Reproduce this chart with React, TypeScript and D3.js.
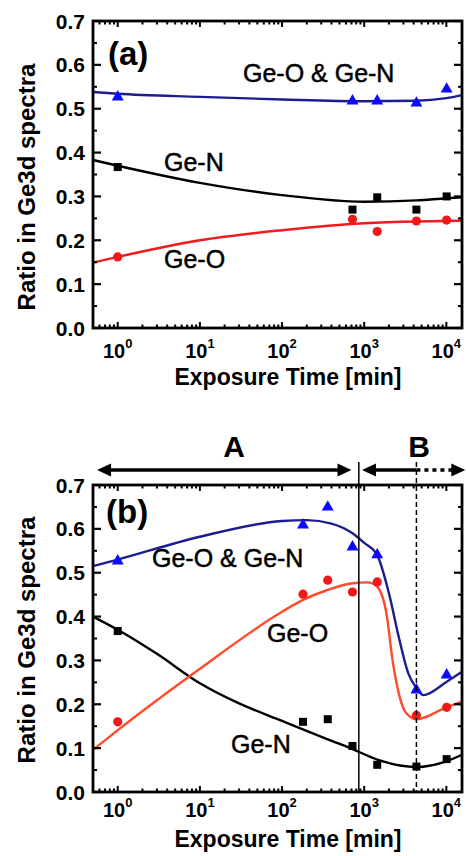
import React from 'react';
import * as d3 from 'd3';

// ---------- shared axes ----------
const X_DOMAIN: [number, number] = [0.5, 15500];
const Y_DOMAIN: [number, number] = [0, 0.7];
const Y_TICKS = [0, 0.1, 0.2, 0.3, 0.4, 0.5, 0.6, 0.7];
const X_TICK_EXPONENTS = [0, 1, 2, 3, 4];

// ---------- panel (a) ----------
const timesA = [1, 720, 1440, 4320, 10080];
const aBoth = [0.529, 0.52, 0.52, 0.515, 0.547];
const aGeN = [0.367, 0.27, 0.298, 0.27, 0.3];
const aGeO = [0.162, 0.248, 0.22, 0.244, 0.246];

const aFitX = [0.5, 1, 10, 100, 1000, 4320, 10000, 15500];
const aFitBoth = [0.538, 0.534, 0.527, 0.521, 0.517, 0.518, 0.524, 0.531];
const aFitGeN = [0.383, 0.37, 0.331, 0.303, 0.288, 0.291, 0.296, 0.298];
const aFitGeO = [0.149, 0.162, 0.2, 0.223, 0.239, 0.243, 0.244, 0.245];

// ---------- panel (b) ----------
const timesB = [1, 180, 360, 720, 1440, 4320, 10080];
const bBoth = [0.529, 0.611, 0.652, 0.561, 0.543, 0.235, 0.269];
const bGeO = [0.16, 0.451, 0.483, 0.456, 0.479, 0.175, 0.193];
const bGeN = [0.367, 0.16, 0.166, 0.105, 0.062, 0.058, 0.075];

const bFitBothX = [0.5, 1, 10, 100, 200, 400, 720, 1000, 1440, 2000, 2630, 3450, 4320, 5250, 10000, 15500];
const bFitBoth = [0.515, 0.53, 0.582, 0.618, 0.62, 0.612, 0.59, 0.568, 0.54, 0.453, 0.354, 0.27, 0.237, 0.221, 0.251, 0.274];
const bFitGeOX = [0.5, 1, 7, 10, 100, 180, 350, 720, 1100, 1440, 1860, 2240, 2700, 3240, 4320, 10000, 15500];
const bFitGeO = [0.096, 0.141, 0.26, 0.281, 0.411, 0.438, 0.46, 0.476, 0.478, 0.468, 0.408, 0.294, 0.217, 0.18, 0.166, 0.193, 0.206];
const bFitGeNX = [0.5, 1, 3, 10, 30, 100, 360, 720, 1440, 4320, 10000, 15500];
const bFitGeN = [0.4, 0.37, 0.315, 0.248, 0.202, 0.162, 0.12, 0.098, 0.074, 0.057, 0.07, 0.085];

// region annotations (b)
const regionA = [0.56, 700];
const regionB = [940, 4320, 17000];
const regionBoundary = 860;
const regionDashed = 4320;

const BLUE_PT = '#0b0bff';
const BLUE_LN = '#1d1d8f';
const RED_PT = '#f01818';
const RED_LN_A = '#ee1c1c';
const RED_LN_B = '#ff4b2d';

const LEFT = 93;
const RIGHT = 462;
const FONT = "'Liberation Sans', Arial, Helvetica, sans-serif";

type PanelProps = {
  top: number;
  bottom: number;
  label: string;
  times: number[];
  both: number[];
  geO: number[];
  geN: number[];
  fits: { xs: number[]; ys: number[]; color: string }[];
  texts: { t: string; x: number; y: number }[];
  labelPos: [number, number];
  titleCenter: number;
  tickBaseline: number;
  xTitleBaseline: number;
  children?: (x: d3.ScaleLogarithmic<number, number>, y: d3.ScaleLinear<number, number>) => React.ReactNode;
};

function Panel(p: PanelProps) {
  const x = d3.scaleLog().domain(X_DOMAIN).range([LEFT, RIGHT]);
  const y = d3.scaleLinear().domain(Y_DOMAIN).range([p.bottom, p.top]);
  const minor = x.ticks();
  const line = d3
    .line<[number, number]>()
    .x((d) => x(d[0]))
    .y((d) => y(d[1]))
    .curve(d3.curveMonotoneX);
  const yMinor = d3.range(0.05, 0.7, 0.1);
  const tri = d3.symbol().type(d3.symbolTriangle).size(62)();

  return (
    <g>
      {p.fits.map((f, i) => (
        <path
          key={i}
          d={line(f.xs.map((v, j) => [v, f.ys[j]] as [number, number])) || ''}
          fill="none"
          stroke={f.color}
          strokeWidth={2.4}
        />
      ))}
      {p.times.map((t, i) => (
        <rect key={'s' + i} x={x(t) - 4} y={y(p.geN[i]) - 4} width={8} height={8} fill="#000" />
      ))}
      {p.times.map((t, i) => (
        <circle key={'c' + i} cx={x(t)} cy={y(p.geO[i])} r={4.6} fill={RED_PT} />
      ))}
      {p.times.map((t, i) => (
        <path key={'t' + i} d={tri || ''} transform={`translate(${x(t)},${y(p.both[i]) + 1})`} fill={BLUE_PT} />
      ))}
      {p.children && p.children(x, y)}
      {minor.map((t, i) => {
        const major = Math.abs(Math.log10(t) - Math.round(Math.log10(t))) < 1e-9;
        const len = major ? 6 : 3.5;
        return (
          <g key={'xt' + i}>
            <line x1={x(t)} x2={x(t)} y1={p.bottom} y2={p.bottom - len} stroke="#000" strokeWidth={2} />
            <line x1={x(t)} x2={x(t)} y1={p.top} y2={p.top + len} stroke="#000" strokeWidth={2} />
          </g>
        );
      })}
      {Y_TICKS.map((t, i) => (
        <g key={'yt' + i}>
          <line x1={LEFT} x2={LEFT + 8} y1={y(t)} y2={y(t)} stroke="#000" strokeWidth={2.2} />
          <line x1={RIGHT} x2={RIGHT - 8} y1={y(t)} y2={y(t)} stroke="#000" strokeWidth={2.2} />
        </g>
      ))}
      {yMinor.map((t, i) => (
        <g key={'ym' + i}>
          <line x1={LEFT} x2={LEFT + 4} y1={y(t)} y2={y(t)} stroke="#000" strokeWidth={2} />
          <line x1={RIGHT} x2={RIGHT - 4} y1={y(t)} y2={y(t)} stroke="#000" strokeWidth={2} />
        </g>
      ))}
      <rect x={LEFT} y={p.top} width={RIGHT - LEFT} height={p.bottom - p.top} fill="none" stroke="#000" strokeWidth={2.8} />
      {Y_TICKS.map((t, i) => (
        <text key={'yl' + i} x={85} y={y(t) + 7.5} textAnchor="end" fontFamily={FONT} fontWeight="bold" fontSize={21}>
          {d3.format('.1f')(t)}
        </text>
      ))}
      {X_TICK_EXPONENTS.map((e) => (
        <text key={'xl' + e} x={x(Math.pow(10, e))} y={p.tickBaseline} textAnchor="middle" fontFamily={FONT} fontWeight="bold" fontSize={20}>
          10
          <tspan dy={-10} fontSize={13}>
            {e}
          </tspan>
        </text>
      ))}
      <text
        transform={`translate(35,${p.titleCenter}) rotate(-90)`}
        textAnchor="middle"
        fontFamily={FONT}
        fontWeight="bold"
        fontSize={24}
      >
        Ratio in Ge3d spectra
      </text>
      <text x={288} y={p.xTitleBaseline} textAnchor="middle" fontFamily={FONT} fontWeight="bold" fontSize={23}>
        Exposure Time [min]
      </text>
      <text x={p.labelPos[0]} y={p.labelPos[1]} fontFamily={FONT} fontWeight="bold" fontSize={33}>
        {p.label}
      </text>
      {p.texts.map((tx, i) => (
        <text key={'tx' + i} x={tx.x} y={tx.y} fontFamily={FONT} fontSize={25} stroke="#000" strokeWidth={0.5}>
          {tx.t}
        </text>
      ))}
    </g>
  );
}

function Arrowhead({ x, y, dir }: { x: number; y: number; dir: 1 | -1 }) {
  const L = 14;
  const H = 6.5;
  return <polygon points={`${x},${y} ${x - dir * L},${y - H} ${x - dir * L},${y + H}`} fill="#000" />;
}

export default function App() {
  return (
    <svg
      width={466}
      height={856}
      viewBox="0 0 466 856"
      style={{ position: 'absolute', left: 0, top: 0, background: '#fff' }}
    >
      <rect x={0} y={0} width={466} height={856} fill="#fff" />
      <Panel
        top={21}
        bottom={328}
        label="(a)"
        times={timesA}
        both={aBoth}
        geO={aGeO}
        geN={aGeN}
        fits={[
          { xs: aFitX, ys: aFitBoth, color: BLUE_LN },
          { xs: aFitX, ys: aFitGeN, color: '#000' },
          { xs: aFitX, ys: aFitGeO, color: RED_LN_A },
        ]}
        texts={[
          { t: 'Ge-O & Ge-N', x: 243, y: 82 },
          { t: 'Ge-N', x: 164, y: 171 },
          { t: 'Ge-O', x: 164, y: 268 },
        ]}
        labelPos={[108, 65]}
        titleCenter={187}
        tickBaseline={358}
        xTitleBaseline={385}
      />
      <Panel
        top={485}
        bottom={792}
        label="(b)"
        times={timesB}
        both={bBoth}
        geO={bGeO}
        geN={bGeN}
        fits={[
          { xs: bFitBothX, ys: bFitBoth, color: BLUE_LN },
          { xs: bFitGeNX, ys: bFitGeN, color: '#000' },
          { xs: bFitGeOX, ys: bFitGeO, color: RED_LN_B },
        ]}
        texts={[
          { t: 'Ge-O & Ge-N', x: 152, y: 567 },
          { t: 'Ge-O', x: 267, y: 642 },
          { t: 'Ge-N', x: 231, y: 753 },
        ]}
        labelPos={[106, 523]}
        titleCenter={640}
        tickBaseline={817}
        xTitleBaseline={847}
      >
        {(x, y) => {
          const ay = 470;
          const a0 = x(regionA[0]);
          const a1 = x(regionA[1]);
          const b0 = x(regionB[0]);
          const b1 = x(regionB[1]);
          const b2 = x(regionB[2]);
          return (
            <g>
              <line x1={x(regionBoundary)} x2={x(regionBoundary)} y1={462} y2={y(0)} stroke="#000" strokeWidth={1.5} />
              <line
                x1={x(regionDashed)}
                x2={x(regionDashed)}
                y1={462}
                y2={y(0)}
                stroke="#000"
                strokeWidth={1.5}
                strokeDasharray="5,3"
              />
              <line x1={a0 + 8} x2={a1 - 8} y1={ay} y2={ay} stroke="#000" strokeWidth={3.5} />
              <Arrowhead x={a0} y={ay} dir={-1} />
              <Arrowhead x={a1} y={ay} dir={1} />
              <line x1={b0 + 8} x2={b1} y1={ay} y2={ay} stroke="#000" strokeWidth={3.5} />
              <line x1={b1} x2={b2 - 12} y1={ay} y2={ay} stroke="#000" strokeWidth={3.5} strokeDasharray="4,4" />
              <Arrowhead x={b0} y={ay} dir={-1} />
              <Arrowhead x={b2} y={ay} dir={1} />
              <text x={234} y={457} textAnchor="middle" fontFamily={FONT} fontWeight="bold" fontSize={30}>
                A
              </text>
              <text x={419} y={457} textAnchor="middle" fontFamily={FONT} fontWeight="bold" fontSize={30}>
                B
              </text>
            </g>
          );
        }}
      </Panel>
    </svg>
  );
}
